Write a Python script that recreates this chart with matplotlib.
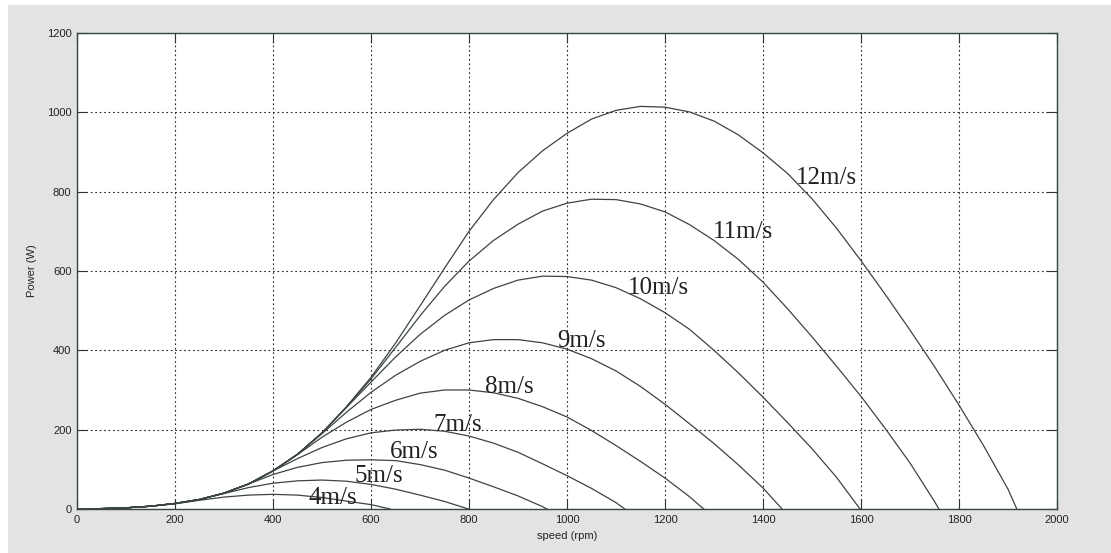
import matplotlib
matplotlib.use("Agg")
import matplotlib.pyplot as plt
from matplotlib.patches import Rectangle

# sample speeds (rpm) shared by every curve; each curve also has its own zero-power end speed
RPM_GRID = [0, 50, 100, 150, 200, 250, 300, 350, 400, 450, 500, 550, 600, 650, 700,
            750, 800, 850, 900, 950, 1000, 1050, 1100, 1150, 1200, 1250, 1300, 1350,
            1400, 1450, 1500, 1550, 1600, 1650, 1700, 1750, 1800, 1850, 1900]

WIND = ["4m/s", "5m/s", "6m/s", "7m/s", "8m/s", "9m/s", "10m/s", "11m/s", "12m/s"]
END_RPM = [639, 799, 959, 1118, 1279, 1439, 1598, 1759, 1918]

P_4 = [0, 1, 3, 7, 13, 22, 30, 35, 37, 35, 29, 20, 11, 0]
P_5 = [0, 1, 3, 7, 14, 24, 39, 54, 65, 71, 73, 70, 62, 50, 35, 19, 0]
P_6 = [0, 1, 3, 7, 14, 24, 40, 63, 87, 105, 117, 123, 124, 122, 112, 98, 78, 56, 33, 6, 0]
P_7 = [0, 1, 3, 7, 14, 24, 40, 63, 96, 127, 155, 177, 192, 199, 201, 196, 184, 166,
       143, 114, 84, 52, 16, 0]
P_8 = [0, 1, 3, 7, 14, 24, 40, 63, 96, 137, 181, 219, 251, 274, 292, 300, 300, 293,
       279, 258, 232, 198, 160, 120, 78, 31, 0]
P_9 = [0, 1, 3, 7, 14, 24, 40, 63, 96, 138, 190, 244, 294, 337, 372, 400, 419, 427,
       427, 419, 403, 379, 348, 309, 264, 215, 165, 111, 53, 0]
P_10 = [0, 1, 3, 7, 14, 24, 40, 63, 96, 138, 192, 256, 320, 383, 440, 488, 527, 556,
        577, 587, 586, 577, 558, 530, 495, 453, 400, 343, 282, 218, 152, 80, 0]
P_11 = [0, 1, 3, 7, 14, 24, 40, 63, 96, 138, 192, 257, 328, 407, 487, 561, 625, 677,
        718, 751, 771, 781, 780, 769, 749, 717, 677, 629, 572, 505, 434, 360, 284,
        202, 116, 19, 0]
P_12 = [0, 1, 3, 7, 14, 24, 40, 63, 96, 138, 192, 258, 332, 418, 512, 607, 700, 780,
        848, 903, 947, 983, 1005, 1015, 1013, 1001, 978, 943, 898, 846, 782, 708, 626,
        540, 451, 359, 262, 160, 50, 0]
POWER = [P_4, P_5, P_6, P_7, P_8, P_9, P_10, P_11, P_12]

# label anchors (rpm, W) for the wind-speed annotations
LABEL_RPM = [472, 567, 639, 727, 833, 980, 1124, 1297, 1467]
LABEL_W = [12, 69, 128, 197, 293, 408, 543, 684, 820]

fig = plt.figure(figsize=(11.11, 5.53), dpi=100, facecolor="white")
fig.patches.append(Rectangle((8 / 1111, 0), 1, 1 - 5 / 553, transform=fig.transFigure,
                             facecolor="#e3e3e3", edgecolor="none", zorder=-10))
ax = fig.add_axes([77 / 1111, 1 - 509 / 553, 980 / 1111, 476 / 553])
ax.set_facecolor("white")

for p, end in zip(POWER, END_RPM):
    x = RPM_GRID[:len(p) - 1] + [end]
    ax.plot(x, p, color="#3c4444", lw=0.9)

for name, lx, ly in zip(WIND, LABEL_RPM, LABEL_W):
    ax.text(lx, ly, name, family="Liberation Serif", fontsize=18, color="#222222",
            ha="left", va="baseline")

ax.set_xlim(0, 2000)
ax.set_ylim(0, 1200)
ax.set_xticks(range(0, 2001, 200))
ax.set_yticks(range(0, 1201, 200))
ax.grid(True, color="#222222", ls=(0, (1.5, 2.5)), lw=0.8)
ax.tick_params(direction="in", length=7, width=0.8, top=True, right=True,
               labelsize=8, colors="#333333", pad=4)
for lbl in ax.get_xticklabels() + ax.get_yticklabels():
    lbl.set_family("Liberation Sans")
    lbl.set_color("#222222")
for s in ax.spines.values():
    s.set_color("#3a4545")
    s.set_linewidth(1.0)

ax.set_xlabel("speed (rpm)", family="Liberation Sans", fontsize=8, color="#222222")
ax.set_ylabel("Power (W)", family="Liberation Sans", fontsize=8, color="#222222")
ax.xaxis.set_label_coords(0.5, -0.046)
ax.xaxis.label.set_va("top")
ax.yaxis.set_label_coords(-0.041, 0.5)

fig.savefig("out.png", dpi=100, facecolor=fig.get_facecolor())
